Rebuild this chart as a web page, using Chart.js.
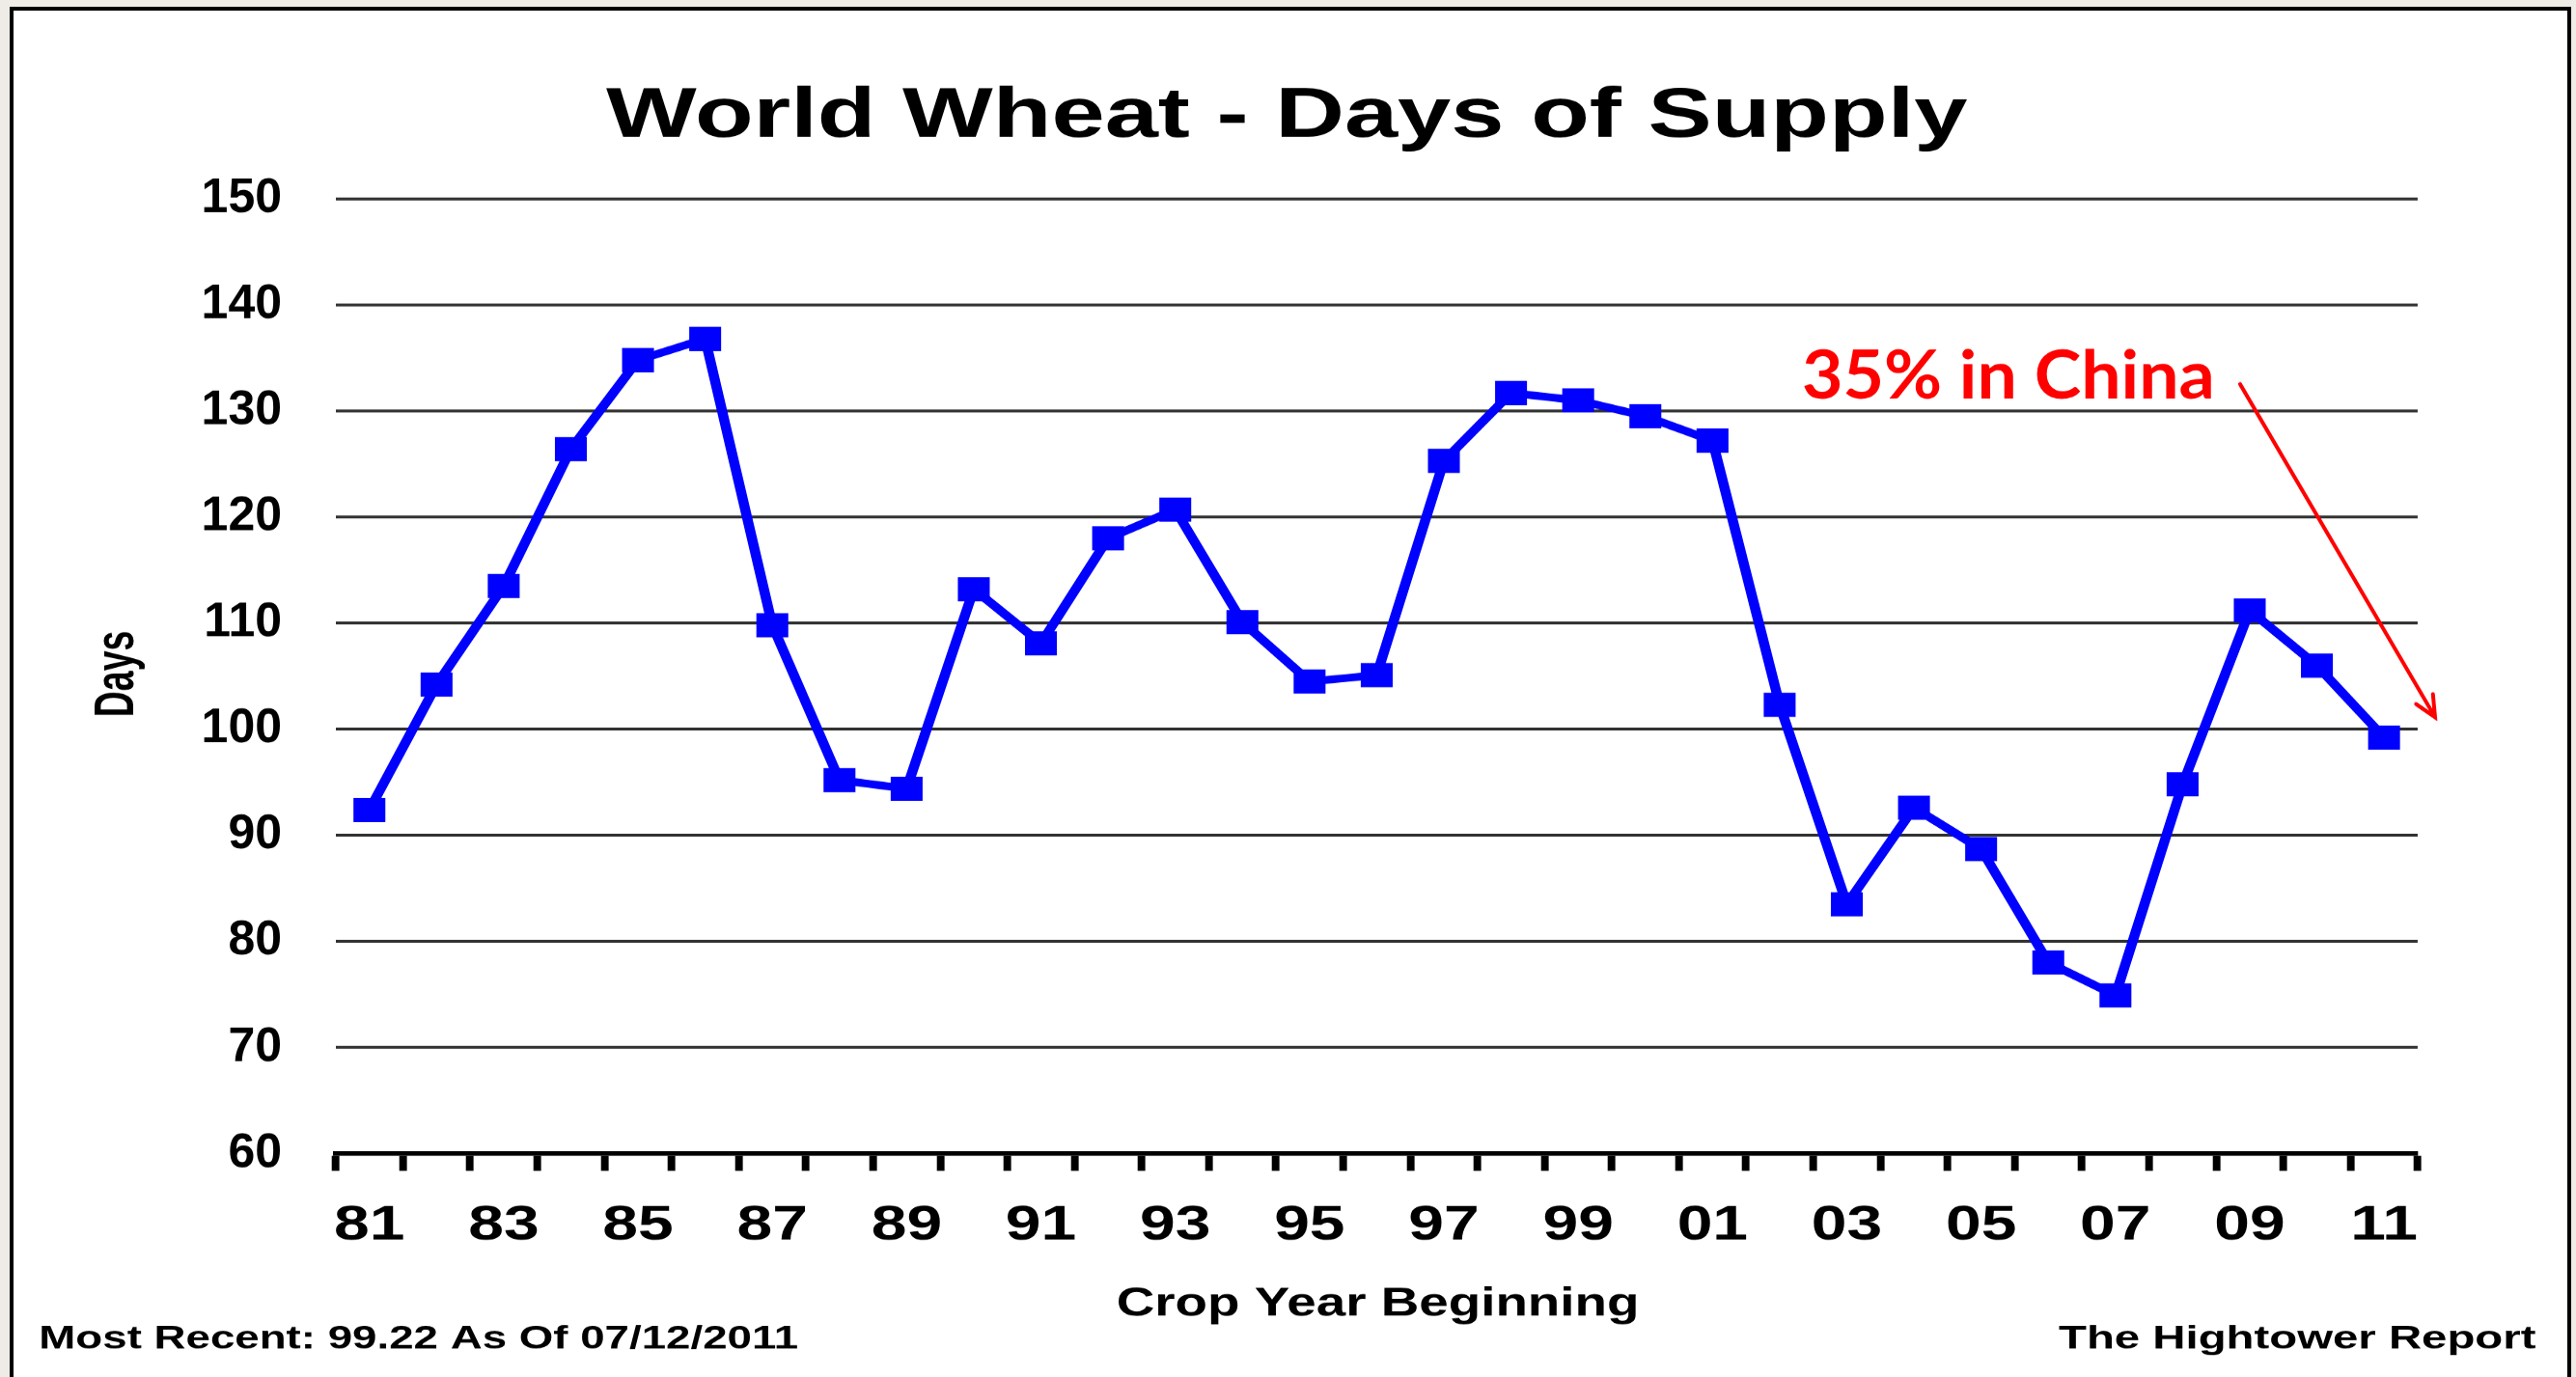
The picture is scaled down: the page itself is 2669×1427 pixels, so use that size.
<!DOCTYPE html>
<html>
<head>
<meta charset="utf-8">
<script src="https://cdn.jsdelivr.net/npm/chart.js@4.4.1/dist/chart.umd.min.js"></script>
<style>
  html, body { margin: 0; padding: 0; width: 2669px; height: 1427px; overflow: hidden; background: #EFECE7; }
  #frame { position: absolute; left: 10px; top: 7px; width: 2654px; height: 1500px; background: #ffffff; border: 4px solid #000; box-sizing: border-box; }
  #c { position: absolute; left: 0; top: 0; transform-origin: 0 0; }
</style>
</head>
<body>
<div id="frame"></div>
<canvas id="c" width="2022" height="1427"></canvas>
<script>
// ---- data ----
const cropYears = ['81','82','83','84','85','86','87','88','89','90','91','92','93','94','95','96','97','98','99','00','01','02','03','04','05','06','07','08','09','10','11'];
const daysOfSupply = [92.4,104.2,113.5,126.4,134.8,136.8,109.8,95.2,94.4,113.2,108.1,118.0,120.7,110.1,104.5,105.1,125.3,131.7,131.0,129.5,127.2,102.3,83.5,92.6,88.7,78.0,74.9,94.8,111.2,106.0,99.22];
const yMin = 60, yMax = 150, yStep = 10;
const chartTitle = 'World Wheat - Days of Supply';
const xTitle = 'Crop Year Beginning';
const yTitle = 'Days';
const footLeft = 'Most Recent: 99.22 As Of 07/12/2011';
const footRight = 'The Hightower Report';
const noteText = '35% in China';

// ---- layout (the original picture is stretched horizontally) ----
const PAGE_W = 2669, LOG_W = 2022, LOG_H = 1427;
const S = PAGE_W / LOG_W;
const canvas = document.getElementById('c');
canvas.style.transform = 'scaleX(' + S + ')';
const FONT = '"Liberation Sans", Arial, sans-serif';

function drawFit(ctx, text, font, color, inkLeft, baseline, inkWidth) {
  ctx.save();
  ctx.font = font;
  ctx.fillStyle = color;
  ctx.textAlign = 'left';
  ctx.textBaseline = 'alphabetic';
  const m = ctx.measureText(text);
  const w = m.actualBoundingBoxRight + m.actualBoundingBoxLeft;
  const k = inkWidth / w;
  ctx.translate(inkLeft + m.actualBoundingBoxLeft * k, baseline);
  ctx.scale(k, 1);
  ctx.fillText(text, 0, 0);
  ctx.restore();
}

const decor = {
  id: 'decor',
  afterDraw(chart) {
    const ctx = chart.ctx;
    const ys = chart.scales.y;
    ctx.save();
    ctx.scale(1 / S, 1); // page coordinates
    // y tick labels (not stretched in the original), placed by the library's y scale
    ctx.font = 'bold 50px ' + FONT;
    ctx.fillStyle = '#000';
    ctx.textAlign = 'right';
    ctx.textBaseline = 'middle';
    ys.ticks.forEach(t => {
      ctx.fillText(String(t.value), 292, ys.getPixelForValue(t.value));
    });
    drawFit(ctx, chartTitle, 'bold 73px ' + FONT, '#000', 628, 142, 1411);
    drawFit(ctx, xTitle, 'bold 42px ' + FONT, '#000', 1158, 1363, 537);
    drawFit(ctx, footLeft, 'bold 34px ' + FONT, '#000', 43, 1397, 783);
    drawFit(ctx, footRight, 'bold 34px ' + FONT, '#000', 2133, 1397, 494);
    // rotated axis title
    ctx.save();
    ctx.translate(138, 698);
    ctx.rotate(-Math.PI / 2);
    drawFit(ctx, yTitle, 'bold 58px ' + FONT, '#000', -43, 0, 86);
    ctx.restore();
    // annotation
    drawFit(ctx, noteText, 'bold 70px Lato, "Open Sans", sans-serif', '#FF0000', 1869, 413, 422);
    // arrow
    const x1 = 2321, y1 = 398, x2 = 2523, y2 = 743;
    ctx.strokeStyle = '#FF0000';
    ctx.lineWidth = 4;
    ctx.lineCap = 'round';
    ctx.beginPath();
    ctx.moveTo(x1, y1); ctx.lineTo(x2, y2);
    const a = Math.atan2(y1 - y2, x1 - x2), L = 24, d = 25 * Math.PI / 180;
    ctx.moveTo(x2 + L * Math.cos(a + d), y2 + L * Math.sin(a + d));
    ctx.lineTo(x2, y2);
    ctx.lineTo(x2 + L * Math.cos(a - d), y2 + L * Math.sin(a - d));
    ctx.stroke();
    ctx.restore();
  }
};

new Chart(canvas, {
  type: 'line',
  data: {
    labels: cropYears,
    datasets: [{
      data: daysOfSupply,
      borderColor: '#0000FF',
      backgroundColor: '#0000FF',
      borderWidth: 8,
      pointStyle: 'rect',
      pointRadius: 17.7,
      pointHoverRadius: 17.7,
      pointBorderWidth: 0,
      pointBackgroundColor: '#0000FF',
      tension: 0,
      fill: false
    }]
  },
  options: {
    responsive: false,
    devicePixelRatio: S,
    animation: false,
    events: [],
    layout: { padding: { left: 0, top: 206, right: LOG_W - 1897.7, bottom: 0 } },
    plugins: { legend: { display: false }, tooltip: { enabled: false }, title: { display: false } },
    scales: {
      x: {
        type: 'category',
        offset: true,
        grid: { display: true, offset: true, drawOnChartArea: false, drawTicks: true, tickLength: 18, tickWidth: 6, tickColor: '#000' },
        border: { display: true, color: '#000', width: 5 },
        ticks: {
          autoSkip: false, maxRotation: 0, minRotation: 0, padding: 27, color: '#000',
          font: { family: FONT, size: 50, weight: 'bold' },
          callback: function (v, i) { return i % 2 === 0 ? cropYears[i] : ''; }
        },
        afterFit: function (s) { s.height = LOG_H - 1195; }
      },
      y: {
        min: yMin, max: yMax,
        grid: { color: '#333333', lineWidth: 3, drawTicks: false },
        border: { display: false },
        ticks: { display: false, stepSize: yStep },
        afterFit: function (s) { s.width = 263.6; }
      }
    }
  },
  plugins: [decor]
});
</script>
</body>
</html>
